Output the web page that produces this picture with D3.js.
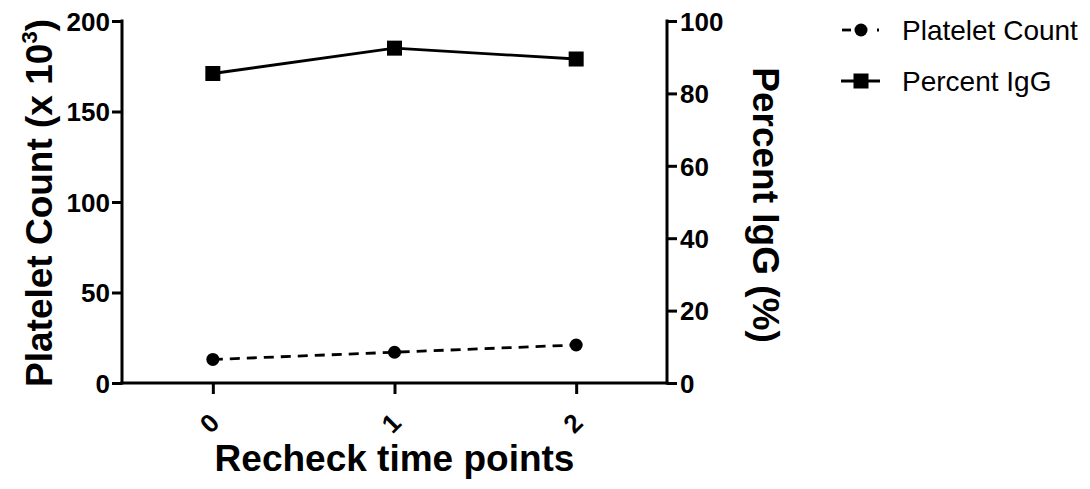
<!DOCTYPE html>
<html>
<head>
<meta charset="utf-8">
<script src="https://cdn.jsdelivr.net/npm/d3@7"></script>
<style>
  html, body { margin: 0; padding: 0; background: #fff; }
  svg { display: block; }
  text { font-family: "Liberation Sans", Arial, sans-serif; }
</style>
</head>
<body>
<svg id="chart" width="1090" height="489"></svg>
<script>
// Recheck time points and the two measured series
const timePoints = [0, 1, 2];
const plateletCount = [13, 17, 21];      // x 10^3
const percentIgG = [85.5, 92.5, 89.5];   // %
const leftTicks = [0, 50, 100, 150, 200];
const rightTicks = [0, 20, 40, 60, 80, 100];
const seriesNames = ["Platelet Count", "Percent IgG"];

const svg = d3.select("#chart");
const plot = { left: 122, right: 667, top: 21, bottom: 383 };

const x = d3.scaleLinear().domain([-0.5, 2.5]).range([plot.left, plot.right]);
const yLeft = d3.scaleLinear().domain([0, 200]).range([plot.bottom, plot.top]);
const yRight = d3.scaleLinear().domain([0, 100]).range([plot.bottom, plot.top]);

const tickFont = 26;
const titleFont = 37;

// Left axis
const gL = svg.append("g").attr("transform", `translate(${plot.left},0)`)
  .call(d3.axisLeft(yLeft).tickValues(leftTicks).tickSize(10).tickPadding(2));
// Right axis
const gR = svg.append("g").attr("transform", `translate(${plot.right},0)`)
  .call(d3.axisRight(yRight).tickValues(rightTicks).tickSize(10).tickPadding(3));
// Bottom axis
const gB = svg.append("g").attr("transform", `translate(0,${plot.bottom})`)
  .call(d3.axisBottom(x).tickValues(timePoints).tickFormat(d3.format("d")).tickSize(11).tickSizeOuter(0));

[gL, gR, gB].forEach(g => {
  g.attr("font-size", null).attr("font-family", null);
  g.select(".domain").attr("stroke", "#000").attr("stroke-width", 3).attr("stroke-linecap", "square");
  g.selectAll(".tick line").attr("stroke", "#000").attr("stroke-width", 3);
  g.selectAll(".tick text").attr("fill", "#000")
    .style("font-size", tickFont + "px").style("font-weight", "bold");
});
gL.select(".domain").attr("d", `M0,${plot.bottom}V${plot.top}`);
gR.select(".domain").attr("d", `M0,${plot.bottom}V${plot.top}`);
gB.select(".domain").attr("d", `M${plot.left},0H${plot.right}`);
gL.selectAll(".tick text").attr("dy", "0.36em");
gR.selectAll(".tick text").attr("dy", "0.36em");

// Rotated x tick labels
gB.selectAll(".tick text")
  .attr("text-anchor", "middle")
  .attr("dy", "0.36em")
  .attr("y", 0)
  .attr("transform", "translate(-4,40) rotate(-45)");

// Platelet count: dashed line with circles
const lineL = d3.line().x((d, i) => x(timePoints[i])).y(d => yLeft(d));
svg.append("path").datum(plateletCount)
  .attr("d", lineL).attr("fill", "none").attr("stroke", "#000")
  .attr("stroke-width", 2.8).attr("stroke-dasharray", "10,7");
svg.selectAll("circle.pc").data(plateletCount).join("circle")
  .attr("class", "pc")
  .attr("cx", (d, i) => x(timePoints[i])).attr("cy", d => yLeft(d))
  .attr("r", 6.5).attr("fill", "#000");

// Percent IgG: solid line with squares
const lineR = d3.line().x((d, i) => x(timePoints[i])).y(d => yRight(d));
svg.append("path").datum(percentIgG)
  .attr("d", lineR).attr("fill", "none").attr("stroke", "#000").attr("stroke-width", 2.8);
const sq = 15;
svg.selectAll("rect.igg").data(percentIgG).join("rect")
  .attr("class", "igg")
  .attr("x", (d, i) => x(timePoints[i]) - sq / 2).attr("y", d => yRight(d) - sq / 2)
  .attr("width", sq).attr("height", sq).attr("fill", "#000");

// Axis titles
const leftTitle = svg.append("text")
  .attr("transform", `translate(52,203) rotate(-90)`)
  .attr("text-anchor", "middle").style("font-size", titleFont + "px").style("font-weight", "bold");
leftTitle.append("tspan").text("Platelet Count (x 10");
leftTitle.append("tspan").text("3").style("font-size", "22px").attr("dy", -15);
leftTitle.append("tspan").text(")").attr("dy", 15);

svg.append("text")
  .attr("transform", `translate(753,205) rotate(90)`)
  .attr("text-anchor", "middle").style("font-size", titleFont + "px").style("font-weight", "bold")
  .text("Percent IgG (%)");

svg.append("text")
  .attr("x", x(1)).attr("y", 471)
  .attr("text-anchor", "middle").style("font-size", titleFont + "px").style("font-weight", "bold")
  .text("Recheck time points");

// Legend
const leg = svg.append("g");
const legY = [30, 81];
// Platelet entry
leg.append("line").attr("x1", 842).attr("x2", 851).attr("y1", legY[0]).attr("y2", legY[0])
  .attr("stroke", "#000").attr("stroke-width", 2.8);
leg.append("circle").attr("cx", 861).attr("cy", legY[0]).attr("r", 6.5).attr("fill", "#000");
leg.append("line").attr("x1", 877).attr("x2", 879).attr("y1", legY[0]).attr("y2", legY[0])
  .attr("stroke", "#000").attr("stroke-width", 2.8);
// IgG entry
leg.append("line").attr("x1", 841).attr("x2", 880).attr("y1", legY[1]).attr("y2", legY[1])
  .attr("stroke", "#000").attr("stroke-width", 2.8);
leg.append("rect").attr("x", 861 - sq / 2).attr("y", legY[1] - sq / 2)
  .attr("width", sq).attr("height", sq).attr("fill", "#000");
leg.selectAll("text.lg").data(seriesNames).join("text")
  .attr("class", "lg")
  .attr("x", 902).attr("y", (d, i) => legY[i]).attr("dy", "0.36em")
  .style("font-size", "28px").attr("fill", "#000")
  .text(d => d);
</script>
</body>
</html>
